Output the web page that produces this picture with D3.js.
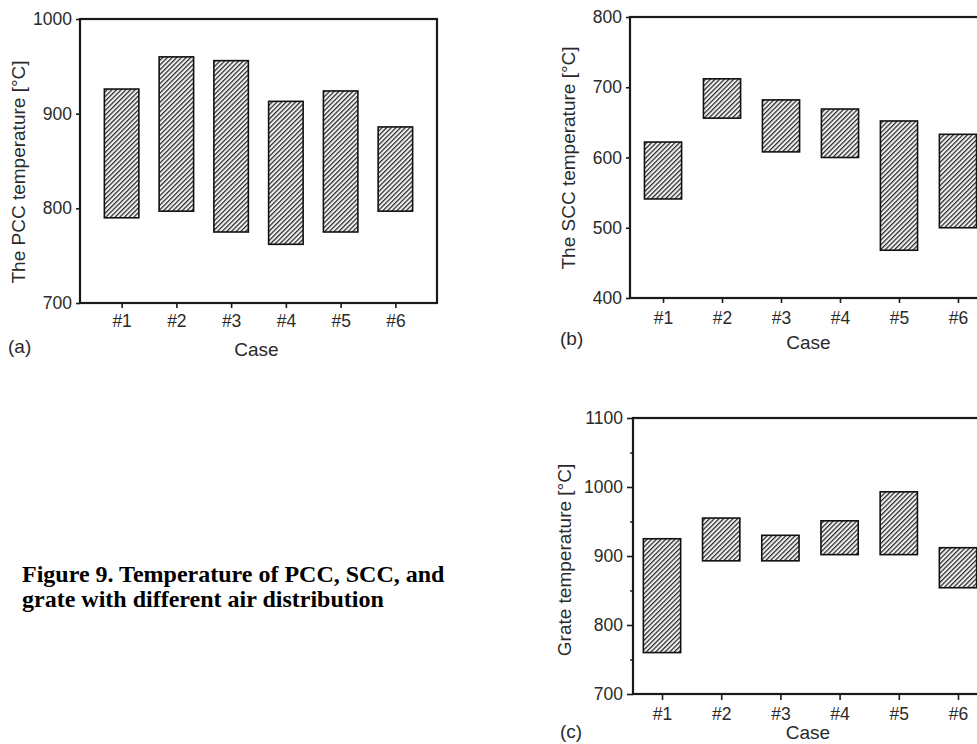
<!DOCTYPE html>
<html>
<head>
<meta charset="utf-8">
<script src="https://cdn.jsdelivr.net/npm/d3@7/dist/d3.min.js"></script>
<style>
  html, body { margin: 0; padding: 0; background: #fff; overflow: hidden; }
  svg { display: block; }
  .tick text { font-family: "Liberation Sans", Arial, sans-serif; font-size: 17.5px; fill: #2a2a2a; }
  .lbl { font-family: "Liberation Sans", Arial, sans-serif; font-size: 19px; fill: #2a2a2a; }
  .cap { font-family: "Liberation Serif", "Times New Roman", serif; font-size: 24px; font-weight: bold; fill: #000; }
</style>
</head>
<body>
<svg id="chart" width="977" height="744"></svg>
<script>
// cases on the x axis
const cases = ['#1', '#2', '#3', '#4', '#5', '#6'];

// PCC temperature range per case (°C)
const pccLow  = [790, 797, 775, 762, 775, 797];
const pccHigh = [926, 960, 956, 913, 924, 886];

// SCC temperature range per case (°C)
const sccLow  = [541, 656, 608, 600, 468, 500];
const sccHigh = [622, 712, 682, 669, 652, 633];

// grate temperature range per case (°C)
const grateLow  = [760, 893, 893, 902, 902, 854];
const grateHigh = [925, 955, 930, 951, 993, 912];

const pccTicks = [700, 800, 900, 1000];
const sccTicks = [400, 500, 600, 700, 800];
const grateTicks = [700, 800, 900, 1000, 1100];
const grateMinor = [750, 850, 950, 1050];

const svg = d3.select('#chart');

// hatch pattern, "/" lines
const pat = svg.append('defs').append('pattern')
  .attr('id', 'hatch')
  .attr('patternUnits', 'userSpaceOnUse')
  .attr('width', 3.3).attr('height', 3.3)
  .attr('patternTransform', 'rotate(45)');
pat.append('rect').attr('width', 3.3).attr('height', 3.3).attr('fill', '#f2f2f2');
pat.append('line')
  .attr('x1', 0.6).attr('y1', 0).attr('x2', 0.6).attr('y2', 3.3)
  .attr('stroke', '#2b2b2b').attr('stroke-width', 1.3);

function drawPanel(o) {
  const g = svg.append('g');
  const x = d3.scalePoint().domain(cases).range([o.left, o.right]).padding(o.pad);
  const y = d3.scaleLinear().domain(o.domain).range([o.bottom, o.top]);
  const bw = x.step() * 0.63;

  // y axis
  const ya = g.append('g')
    .attr('transform', `translate(${o.left},0)`)
    .call(d3.axisLeft(y).tickValues(o.ticks).tickFormat(d3.format('d'))
      .tickSize(o.ytick).tickPadding(o.ypad));
  ya.select('.domain').remove();
  ya.selectAll('.tick line').attr('stroke', '#1a1a1a').attr('stroke-width', 1.6);

  if (o.minor) {
    g.append('g')
      .attr('transform', `translate(${o.left},0)`)
      .call(d3.axisLeft(y).tickValues(o.minor).tickSize(3).tickFormat(''))
      .call(s => s.select('.domain').remove())
      .selectAll('.tick line').attr('stroke', '#1a1a1a').attr('stroke-width', 1.4);
  }

  // x axis
  const xa = g.append('g')
    .attr('transform', `translate(0,${o.bottom})`)
    .call(d3.axisBottom(x).tickSize(o.xtick).tickPadding(o.xpad));
  xa.select('.domain').remove();
  xa.selectAll('.tick line').attr('stroke', '#1a1a1a').attr('stroke-width', 1.6);

  // range bars
  g.selectAll('rect.bar')
    .data(cases.map((c, i) => ({ c, lo: o.low[i], hi: o.high[i] })))
    .join('rect')
    .attr('class', 'bar')
    .attr('x', d => x(d.c) - bw / 2)
    .attr('width', bw)
    .attr('y', d => y(d.hi))
    .attr('height', d => y(d.lo) - y(d.hi))
    .attr('fill', 'url(#hatch)')
    .attr('stroke', '#111')
    .attr('stroke-width', 1.6);

  // frame
  g.append('rect')
    .attr('x', o.left).attr('y', o.top)
    .attr('width', o.right - o.left).attr('height', o.bottom - o.top)
    .attr('fill', 'none').attr('stroke', '#1a1a1a').attr('stroke-width', 2.2);

  // labels
  g.append('text').attr('class', 'lbl')
    .attr('transform', `translate(${o.titleX},${o.titleY}) rotate(-90)`)
    .attr('text-anchor', 'middle')
    .text(o.title);
  g.append('text').attr('class', 'lbl')
    .attr('x', (o.left + o.right) / 2 + o.caseDx).attr('y', o.caseY)
    .attr('text-anchor', 'middle')
    .text('Case');
  g.append('text').attr('class', 'lbl')
    .attr('x', o.tagX).attr('y', o.tagY)
    .text(o.tag);
}

drawPanel({
  left: 80, right: 437, top: 19, bottom: 303, pad: 0.76,
  domain: [700, 1000], ticks: pccTicks, low: pccLow, high: pccHigh,
  ytick: 4, ypad: 4, xtick: 5, xpad: 7,
  title: 'The PCC temperature [°C]', titleX: 25, titleY: 172,
  caseY: 356, caseDx: -2, tag: '(a)', tagX: 8, tagY: 353
});

drawPanel({
  left: 630, right: 991, top: 17, bottom: 298, pad: 0.56,
  domain: [400, 800], ticks: sccTicks, low: sccLow, high: sccHigh,
  ytick: 4, ypad: 4, xtick: 5, xpad: 9,
  title: 'The SCC temperature [°C]', titleX: 575, titleY: 158,
  caseY: 349, caseDx: -2, tag: '(b)', tagX: 560, tagY: 345
});

drawPanel({
  left: 633, right: 987, top: 418, bottom: 694, pad: 0.49,
  domain: [700, 1100], ticks: grateTicks, minor: grateMinor, low: grateLow, high: grateHigh,
  ytick: 6, ypad: 4, xtick: 6, xpad: 8,
  title: 'Grate temperature [°C]', titleX: 571, titleY: 560,
  caseY: 739, caseDx: -2, tag: '(c)', tagX: 560, tagY: 738
});

// figure caption
const cap = svg.append('text').attr('class', 'cap').attr('x', 22).attr('y', 582);
cap.append('tspan').attr('x', 22).text('Figure 9. Temperature of PCC, SCC, and');
cap.append('tspan').attr('x', 22).attr('dy', 25).text('grate with different air distribution');
</script>
</body>
</html>
